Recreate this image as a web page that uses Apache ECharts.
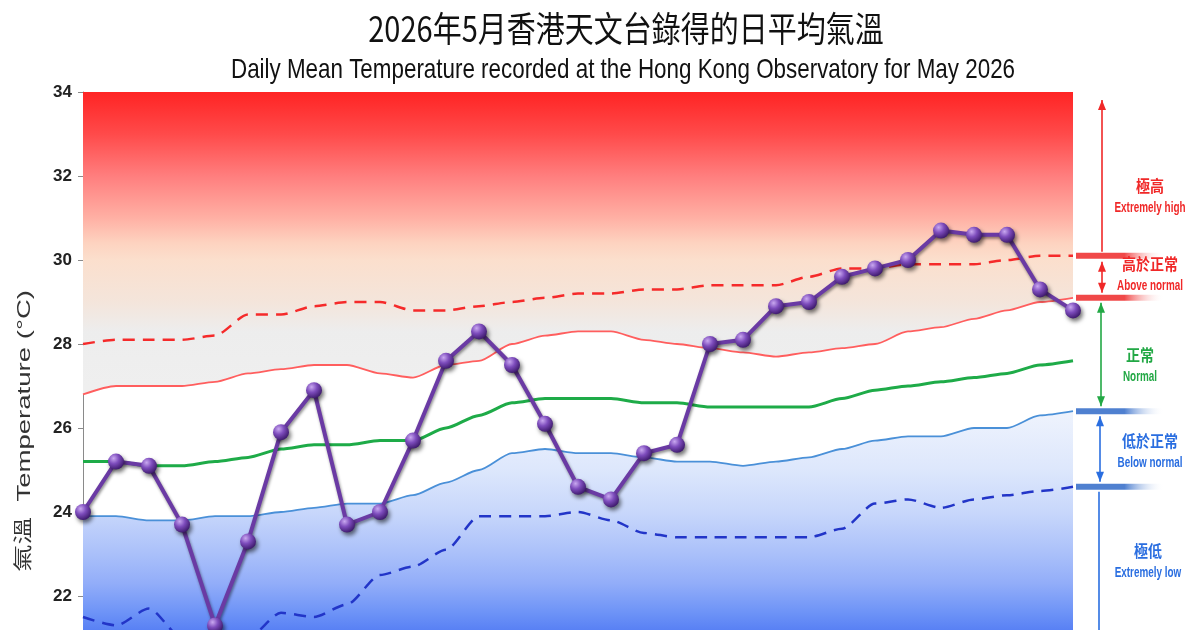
<!DOCTYPE html>
<html><head><meta charset="utf-8">
<script src="https://cdn.jsdelivr.net/npm/echarts@6/dist/echarts.min.js"></script>
<style>html,body{margin:0;padding:0;background:#fff}#main{width:1200px;height:630px}</style>
</head><body><div id="main"></div>
<script>
// ---- data ----
const days = ['1','2','3','4','5','6','7','8','9','10','11','12','13','14','15','16','17','18','19','20','21','22','23','24','25','26','27','28','29','30','31'];
const dailyMean   = [24.0,25.2,25.1,23.7,21.3,23.3,25.9,26.9,23.7,24.0,25.7,27.6,28.3,27.5,26.1,24.6,24.3,25.4,25.6,28.0,28.1,28.9,29.0,29.6,29.8,30.0,30.7,30.6,30.6,29.3,28.8];
const extremeHigh = [28.0,28.1,28.1,28.1,28.2,28.7,28.7,28.9,29.0,29.0,28.8,28.8,28.9,29.0,29.1,29.2,29.2,29.3,29.3,29.4,29.4,29.4,29.6,29.8,29.8,29.9,29.9,29.9,30.0,30.1,30.1];
const upperNormal = [26.8,27.0,27.0,27.0,27.1,27.3,27.4,27.5,27.5,27.3,27.2,27.5,27.6,28.0,28.2,28.3,28.3,28.1,28.0,27.9,27.8,27.7,27.8,27.9,28.0,28.3,28.4,28.6,28.8,29.0,29.1];
const normalMean  = [25.2,25.2,25.1,25.1,25.2,25.3,25.5,25.6,25.6,25.7,25.7,26.0,26.3,26.6,26.7,26.7,26.7,26.6,26.6,26.5,26.5,26.5,26.5,26.7,26.9,27.0,27.1,27.2,27.3,27.5,27.6];
const lowerNormal = [23.9,23.9,23.8,23.8,23.9,23.9,24.0,24.1,24.2,24.2,24.4,24.7,25.0,25.4,25.5,25.4,25.4,25.3,25.2,25.2,25.1,25.2,25.3,25.5,25.7,25.8,25.8,26.0,26.0,26.3,26.4];
const extremeLow  = [21.5,21.3,21.7,21.0,20.8,21.0,21.6,21.5,21.8,22.5,22.7,23.1,23.9,23.9,23.9,24.0,23.8,23.5,23.4,23.4,23.4,23.4,23.4,23.6,24.2,24.3,24.1,24.3,24.4,24.5,24.6];
const yMin = 18, yMax = 34, yStep = 2;
const titleZh = '2026年5月香港天文台錄得的日平均氣溫';
const titleEn = 'Daily Mean Temperature recorded at the Hong Kong Observatory for May 2026';
const yName = '氣溫  Temperature (°C)';
const bands = [
  {zh:'極高', en:'Extremely high', color:'#f02828', x:1150, y:186},
  {zh:'高於正常', en:'Above normal', color:'#f02828', x:1150, y:264},
  {zh:'正常', en:'Normal', color:'#22a845', x:1140, y:355},
  {zh:'低於正常', en:'Below normal', color:'#2a6ee0', x:1150, y:441},
  {zh:'極低', en:'Extremely low', color:'#2a6ee0', x:1148, y:551}
];

const chart = echarts.init(document.getElementById('main'));
const ballColor = {type:'radial', x:0.35, y:0.3, r:0.75, colorStops:[
  {offset:0, color:'#c9a8f0'},{offset:0.45, color:'#7d4cbc'},{offset:1, color:'#3a1768'}]};

const option = {
  animation:false,
  backgroundColor:'#ffffff',
  grid:{left:83, top:92, width:990, height:672, containLabel:false, outerBoundsMode:'none'},
  xAxis:{type:'category', data:days, boundaryGap:false, show:false},
  yAxis:{type:'value', min:yMin, max:yMax, interval:yStep,
    axisLine:{show:true, lineStyle:{color:'#8a8a8a', width:1}},
    axisTick:{show:true, length:5, lineStyle:{color:'#8a8a8a'}},
    splitLine:{show:false},
    axisLabel:{margin:11, color:'#222', fontSize:17, fontWeight:'bold', fontFamily:'"Liberation Sans Narrow","Liberation Sans",Arial,sans-serif'}
  },
  series:[
    {id:'upper', type:'line', data:upperNormal, symbol:'none', smooth:0.25, smoothMonotone:'x',
      lineStyle:{color:'#ff5e5e', width:1.8}, areaStyle:{origin:'end', color:'#f3c0b0', opacity:1}, z:1},
    {id:'lower', type:'line', data:lowerNormal, symbol:'none', smooth:0.25, smoothMonotone:'x',
      lineStyle:{color:'#4a90d8', width:1.8}, areaStyle:{origin:'start', color:'#9ab4f8', opacity:1}, z:1},
    {type:'line', data:extremeHigh, symbol:'none', smooth:0.25, smoothMonotone:'x',
      lineStyle:{color:'#f52a2a', width:2.5, type:[12,8]}, z:2},
    {type:'line', data:normalMean, symbol:'none', smooth:0.25, smoothMonotone:'x',
      lineStyle:{color:'#1eab48', width:3}, z:2},
    {type:'line', data:extremeLow, symbol:'none', smooth:0.25, smoothMonotone:'x',
      lineStyle:{color:'#2235c8', width:2.5, type:[12,8]}, z:2},
    {type:'line', data:dailyMean, symbol:'circle', symbolSize:16,
      lineStyle:{color:'#6a3aa4', width:4, shadowColor:'rgba(0,0,0,0.45)', shadowBlur:3, shadowOffsetX:1, shadowOffsetY:2},
      itemStyle:{color:ballColor, borderWidth:0, shadowColor:'rgba(0,0,0,0.55)', shadowBlur:4, shadowOffsetX:2, shadowOffsetY:3}, z:5}
  ]
};
chart.setOption(option);

const py = v => chart.convertToPixel({yAxisIndex:0}, v);
const last = a => a[a.length-1];

function vGrad(vTop, vBot, stops){
  const y0 = py(vTop), y1 = py(vBot);
  return {type:'linear', x:0, y:y0, x2:0, y2:y1, global:true,
    colorStops: stops.map(s => ({offset:(vTop - s[0])/(vTop - vBot), color:s[1]}))};
}
const redGrad = vGrad(34, 27, [[34,'#ff2424'],[33,'#ff4a4a'],[32,'#ff7e7e'],[31,'#ffb0a4'],[30.4,'#fdd3c0'],[30,'#fbdfcd'],[29,'#f4e5db'],[28.3,'#ededed'],[27,'#efefef']]);
const blueGrad = vGrad(26.5, 21, [[26.5,'#f0f4fd'],[25,'#dde7fc'],[24,'#c8d7fb'],[23,'#aac0fa'],[22.3,'#92adf9'],[21.6,'#6d93f7'],[21,'#4f78f3']]);

const xPlotR = chart.convertToPixel({xAxisIndex:0}, days[days.length-1]);
const graphic = [];
function bar(level, color){
  const y = py(level);
  graphic.push({type:'rect', shape:{x:xPlotR+3, y:y-3, width:88, height:6},
    style:{fill:{type:'linear', x:0, y:0, x2:1, y2:0, colorStops:[{offset:0,color:color},{offset:0.55,color:color},{offset:1,color:'rgba(255,255,255,0)'}]}}, z:10});
}
function head(x, y, dir, color){
  graphic.push({type:'polygon', shape:{points:[[x, y],[x-4, y - dir*10],[x+4, y - dir*10]]}, style:{fill:color}, z:11});
}
function arrow(x, y1, y2, color, upHead, downHead){
  graphic.push({type:'line', shape:{x1:x, y1:y1, x2:x, y2:y2}, style:{stroke:color, lineWidth:1.6}, z:11});
  if (upHead) head(x, y1, -1, color);
  if (downHead) head(x, y2, 1, color);
}
const yEH = py(last(extremeHigh)), yUN = py(last(upperNormal)), yLN = py(last(lowerNormal)), yEL = py(last(extremeLow));
bar(last(extremeHigh), '#f04848');
bar(last(upperNormal), '#f04848');
bar(last(lowerNormal), '#4f80d0');
bar(last(extremeLow), '#4f80d0');
arrow(1102, py(yMax)+8, yEH-4, '#f02828', true, false);
arrow(1102, yEH+6, yUN-5, '#f02828', true, true);
arrow(1101, yUN+5, yLN-5, '#22a845', true, true);
arrow(1100, yLN+5, yEL-5, '#2a6ee0', true, true);
arrow(1099, yEL+5, 700, '#2a6ee0', false, false);

bands.forEach(b => {
  graphic.push({type:'text', x:b.x, y:b.y, scaleY:1.15, style:{text:b.zh, x:0, y:0, textAlign:'center', textVerticalAlign:'middle',
    fill:b.color, font:'bold 14px "Noto Sans CJK TC"'}, z:12});
  graphic.push({type:'text', x:b.x, y:b.y+22, scaleY:1.25, scaleX:0.9, style:{text:b.en, x:0, y:0, textAlign:'center', textVerticalAlign:'middle',
    fill:b.color, font:'bold 11px "Liberation Sans", Arial, sans-serif'}, z:12});
});

graphic.push({type:'text', x:626, y:29, scaleY:1.2, style:{text:titleZh, x:0, y:0, textAlign:'center', textVerticalAlign:'middle',
  fill:'#111', font:'29px "Noto Sans CJK TC"'}, z:12});
graphic.push({type:'text', x:623, y:70, scaleY:1.25, style:{text:titleEn, x:0, y:0, textAlign:'center', textVerticalAlign:'middle',
  fill:'#111', font:'22.4px "Liberation Sans", Arial, sans-serif'}, z:12});
graphic.push({type:'text', x:25, y:431, rotation:Math.PI/2, scaleX:1.45, style:{text:yName, x:0, y:0, textAlign:'center', textVerticalAlign:'middle',
  fill:'#333', font:'19px "Liberation Sans", "Noto Sans CJK TC", sans-serif'}, z:12});

chart.setOption({
  series:[{id:'upper', areaStyle:{color:redGrad}}, {id:'lower', areaStyle:{color:blueGrad}}],
  graphic: graphic
});
</script></body></html>
